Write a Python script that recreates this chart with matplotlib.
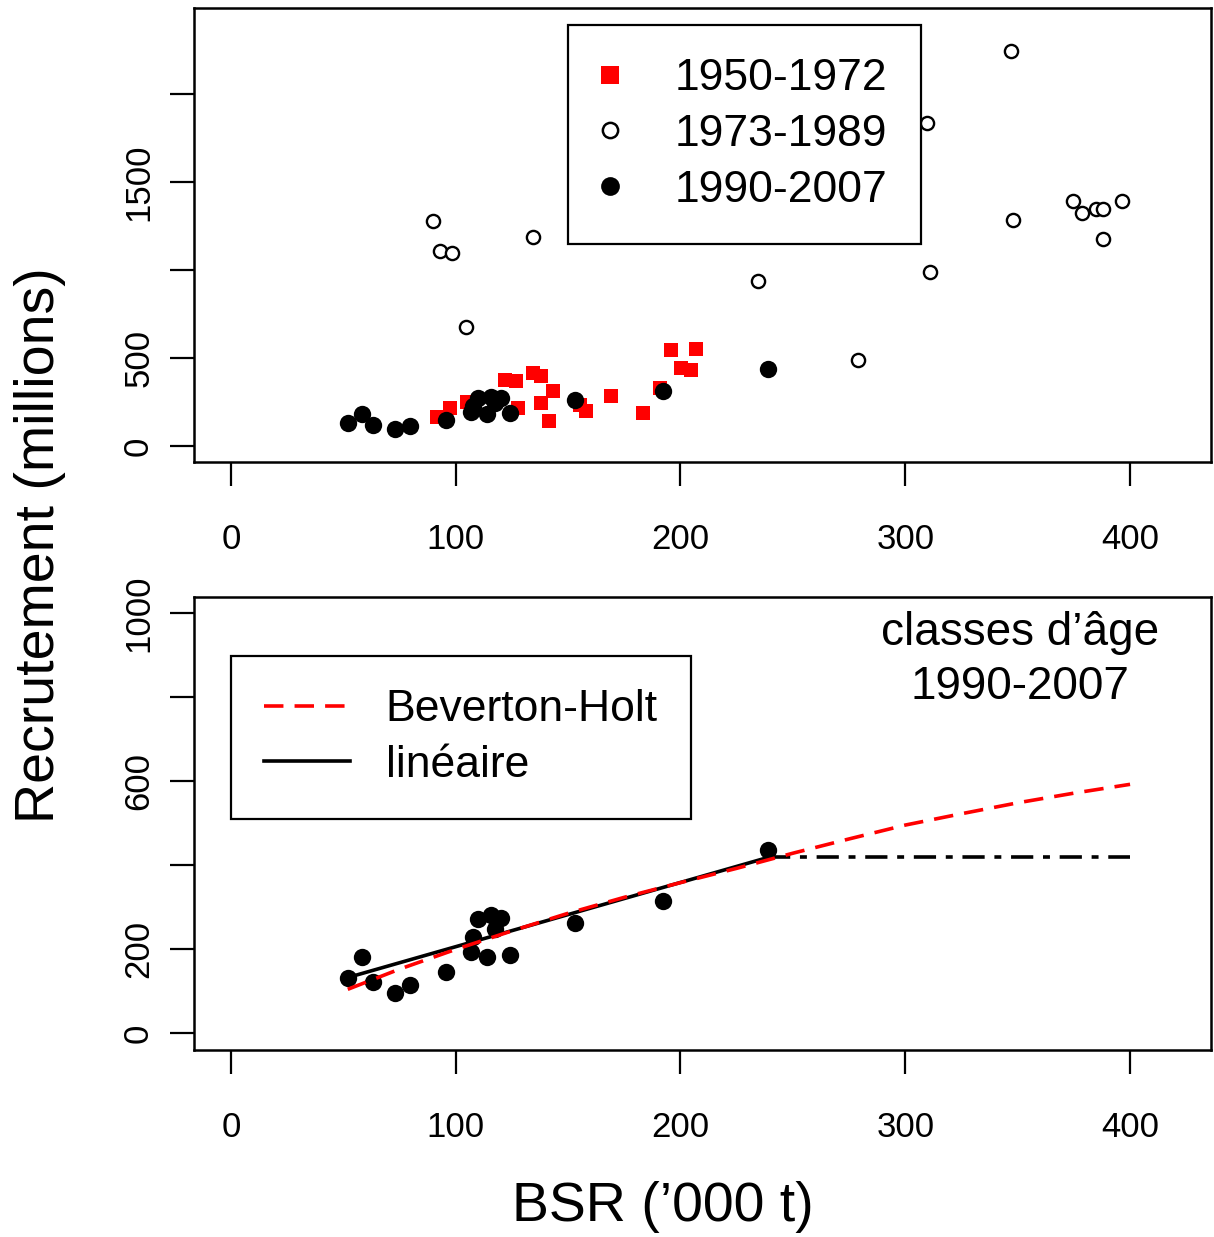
import numpy as np
import matplotlib
matplotlib.use("Agg")
import matplotlib.pyplot as plt
from matplotlib.lines import Line2D

plt.rcParams["font.family"] = ["Liberation Sans", "DejaVu Sans"]
plt.rcParams["lines.scale_dashes"] = False

# ==========================================
# Data
# ==========================================

# 1950-1972 (red squares)
bsr_50 = [91.8, 97.3, 105.1, 121.8, 127.0, 134.4, 137.8, 143.2, 127.7, 138.1,
          141.5, 155.1, 158.0, 168.9, 183.2, 190.7, 195.9, 207.0, 200.2, 204.8]
rec_50 = [165, 214, 252, 375, 369, 416, 398, 312, 214, 247,
          142, 233, 199, 286, 186, 328, 545, 549, 443, 432]

# 1973-1989 (open circles)
bsr_73 = [89.8, 93.0, 98.2, 104.4, 134.4, 234.4, 278.9, 309.8, 311.1, 346.9,
          348.0, 374.8, 378.8, 384.8, 388.0, 388.1, 396.6]
rec_73 = [1280, 1106, 1094, 676, 1190, 940, 489, 1838, 991, 2246,
          1284, 1390, 1324, 1349, 1349, 1175, 1390]

# 1990-2007 (black dots)
bsr_90 = [52.1, 58.4, 63.2, 72.9, 79.9, 95.6, 107.7, 107.0, 109.9, 114.1,
          115.9, 120.3, 117.3, 124.3, 153.3, 192.4, 238.8]
rec_90 = [132, 182, 122, 96, 114, 146, 228, 194, 271, 180,
          281, 273, 247, 186, 261, 314, 436]

# Beverton-Holt curve (red dashed)
bh_x = [52, 75, 100, 125, 150, 175, 200, 225, 250, 275, 300, 325, 350, 375, 400]
bh_y = [104, 152, 199, 243, 285, 323, 358, 392, 428, 462, 495, 522, 548, 571, 592]

# linear (hockey stick)
lin_x = [52, 239]
lin_y = [132, 418]
flat_x = [239, 400]
flat_y = [418, 418]

x_ticks = [0, 100, 200, 300, 400]
top_yticks = [0, 500, 1000, 1500, 2000]
top_ylabels = ["0", "500", "", "1500", ""]
bot_yticks = [0, 200, 400, 600, 800, 1000]
bot_ylabels = ["0", "200", "", "600", "", "1000"]

# ==========================================
# Figure
# ==========================================

W, H = 1214, 1237
fig = plt.figure(figsize=(W / 100, H / 100), dpi=100)

def px_axes(l, t, r, b):
    return fig.add_axes([l / W, 1 - b / H, (r - l) / W, (b - t) / H])

ax1 = px_axes(194, 8, 1211, 462)
ax2 = px_axes(194, 597, 1211, 1050)

tick_fs = 25
for ax in (ax1, ax2):
    ax.set_xlim(-16.4, 436.0)
    ax.set_xticks(x_ticks)
    ax.set_xticklabels([str(v) for v in x_ticks])
    ax.tick_params(axis="both", direction="out", length=17, width=1.6,
                   labelsize=tick_fs, color="black")
    ax.tick_params(axis="x", pad=27)
    ax.tick_params(axis="y", pad=11)
    for s in ax.spines.values():
        s.set_linewidth(1.8)

leg_fs = 32
lw = 2.6

# ---------- top panel ----------
ax1.set_ylim(-91, 2489)
ax1.set_yticks(top_yticks)
ax1.set_yticklabels(top_ylabels, rotation=90, va="center")

ax1.plot(bsr_50, rec_50, linestyle="none", marker="s", markersize=10.5,
         color="#ff0000", markeredgewidth=0, zorder=3)
ax1.plot(bsr_73, rec_73, linestyle="none", marker="o", markersize=9.5,
         markerfacecolor="white", markeredgecolor="black", markeredgewidth=1.7,
         zorder=3)
ax1.plot(bsr_90, rec_90, linestyle="none", marker="o", markersize=12.5,
         color="black", markeredgewidth=0, zorder=4)

h1 = [Line2D([], [], linestyle="none", marker="s", markersize=12.5,
             color="#ff0000", markeredgewidth=0),
      Line2D([], [], linestyle="none", marker="o", markersize=11,
             markerfacecolor="white", markeredgecolor="black", markeredgewidth=1.8),
      Line2D([], [], linestyle="none", marker="o", markersize=13.5,
             color="black", markeredgewidth=0)]
leg1 = ax1.legend(h1, ["1950-1972", "1973-1989", "1990-2007"],
                  loc="upper left", bbox_to_anchor=((568 - 194) / 1017, (462 - 25) / 454),
                  fontsize=leg_fs, frameon=True, fancybox=False, framealpha=1,
                  edgecolor="black", borderpad=0.75, labelspacing=0.33,
                  handlelength=0.4, handletextpad=1.25, borderaxespad=0)
leg1.get_frame().set_linewidth(1.6)

# ---------- bottom panel ----------
ax2.set_ylim(-40.5, 1038)
ax2.set_yticks(bot_yticks)
ax2.set_yticklabels(bot_ylabels, rotation=90, va="center")

ax2.plot(bsr_90, rec_90, linestyle="none", marker="o", markersize=12.5,
         color="black", markeredgewidth=0, zorder=3)
ax2.plot(lin_x, lin_y, color="black", linewidth=lw, zorder=4)
ax2.plot(flat_x, flat_y, color="black", linewidth=lw,
         linestyle=(0, (16, 7, 5, 7)), zorder=4)
ax2.plot(bh_x, bh_y, color="#ff0000", linewidth=lw,
         linestyle=(0, (14, 8)), zorder=5)

h2 = [Line2D([], [], color="#ff0000", linewidth=lw, linestyle=(0, (14, 8))),
      Line2D([], [], color="black", linewidth=lw)]
leg2 = ax2.legend(h2, ["Beverton-Holt", "linéaire"],
                  loc="upper left", bbox_to_anchor=((231 - 194) / 1017, (1050 - 656) / 453),
                  fontsize=leg_fs, frameon=True, fancybox=False, framealpha=1,
                  edgecolor="black", borderpad=0.75, labelspacing=0.33,
                  handlelength=1.93, handletextpad=0.8, borderaxespad=0)
leg2.get_frame().set_linewidth(1.6)

ax2.text(0.812, 0.861, "classes d’âge\n1990-2007", transform=ax2.transAxes,
         fontsize=33, ha="center", va="center", linespacing=1.3)

# ---------- axis titles ----------
fig.text(40 / W, 1 - 545 / H, "Recrutement (millions)", rotation=90,
         fontsize=40, ha="center", va="center")
fig.text(663 / W, 1 - 1207 / H, "BSR (’000 t)", fontsize=40,
         ha="center", va="center")

fig.savefig("out.png", dpi=100)
